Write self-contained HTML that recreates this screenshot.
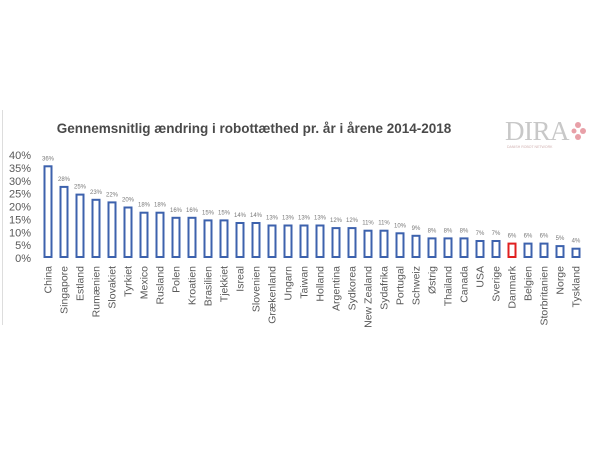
<!DOCTYPE html>
<html><head><meta charset="utf-8"><style>
body{margin:0;background:#fff}
svg{display:block;font-family:"Liberation Sans",sans-serif}
</style></head><body>
<svg width="600" height="450" viewBox="0 0 600 450" xmlns="http://www.w3.org/2000/svg">
<rect width="600" height="450" fill="#fff"/>
<line x1="2.5" y1="110" x2="2.5" y2="325" stroke="#ddd"/>
<text x="254" y="133" text-anchor="middle" font-size="13.5" font-weight="bold" fill="#4a4a4a">Gennemsnitlig ændring i robottæthed pr. år i årene 2014-2018</text>
<text x="505" y="140" font-family="Liberation Serif,serif" font-size="27" fill="#c8c8c8" letter-spacing="-0.5">DIRA</text>
<text x="507" y="148" font-size="3.5" fill="#d0b0b0">DANISH ROBOT NETWORK</text>
<g fill="#e8a0a8"><circle cx="578" cy="125" r="3"/><circle cx="583" cy="131" r="3"/><circle cx="578" cy="137" r="3"/><circle cx="574" cy="131" r="2.5"/></g>
<g font-size="11" fill="#595959" text-anchor="end">
<text x="31" y="262">0%</text><text x="31" y="249.1">5%</text><text x="31" y="236.3">10%</text><text x="31" y="223.4">15%</text><text x="31" y="210.5">20%</text><text x="31" y="197.6">25%</text><text x="31" y="184.8">30%</text><text x="31" y="171.9">35%</text><text x="31" y="159">40%</text>
</g>
<g fill="#fff" stroke="#3d62ad" stroke-width="2">
<rect x="44.5" y="166.3" width="7" height="90.7"/>
<rect x="60.5" y="186.9" width="7" height="70.1"/>
<rect x="76.5" y="194.6" width="7" height="62.4"/>
<rect x="92.5" y="199.8" width="7" height="57.2"/>
<rect x="108.5" y="202.4" width="7" height="54.6"/>
<rect x="124.5" y="207.5" width="7" height="49.5"/>
<rect x="140.5" y="212.7" width="7" height="44.3"/>
<rect x="156.5" y="212.7" width="7" height="44.3"/>
<rect x="172.5" y="217.8" width="7" height="39.2"/>
<rect x="188.5" y="217.8" width="7" height="39.2"/>
<rect x="204.5" y="220.4" width="7" height="36.6"/>
<rect x="220.5" y="220.4" width="7" height="36.6"/>
<rect x="236.5" y="223" width="7" height="34"/>
<rect x="252.5" y="223" width="7" height="34"/>
<rect x="268.5" y="225.5" width="7" height="31.5"/>
<rect x="284.5" y="225.5" width="7" height="31.5"/>
<rect x="300.5" y="225.5" width="7" height="31.5"/>
<rect x="316.5" y="225.5" width="7" height="31.5"/>
<rect x="332.5" y="228.1" width="7" height="28.9"/>
<rect x="348.5" y="228.1" width="7" height="28.9"/>
<rect x="364.5" y="230.7" width="7" height="26.3"/>
<rect x="380.5" y="230.7" width="7" height="26.3"/>
<rect x="396.5" y="233.3" width="7" height="23.7"/>
<rect x="412.5" y="235.8" width="7" height="21.2"/>
<rect x="428.5" y="238.4" width="7" height="18.6"/>
<rect x="444.5" y="238.4" width="7" height="18.6"/>
<rect x="460.5" y="238.4" width="7" height="18.6"/>
<rect x="476.5" y="241" width="7" height="16"/>
<rect x="492.5" y="241" width="7" height="16"/>
<rect x="508.5" y="243.6" width="7" height="13.4" stroke="#e02020"/>
<rect x="524.5" y="243.6" width="7" height="13.4"/>
<rect x="540.5" y="243.6" width="7" height="13.4"/>
<rect x="556.5" y="246.1" width="7" height="10.9"/>
<rect x="572.5" y="248.7" width="7" height="8.3"/>
</g>
<g font-size="6" fill="#777" text-anchor="middle">
<text x="48" y="160.3">36%</text><text x="64" y="180.9">28%</text><text x="80" y="188.6">25%</text><text x="96" y="193.8">23%</text><text x="112" y="196.4">22%</text><text x="128" y="201.5">20%</text><text x="144" y="206.7">18%</text><text x="160" y="206.7">18%</text><text x="176" y="211.8">16%</text><text x="192" y="211.8">16%</text><text x="208" y="214.4">15%</text><text x="224" y="214.4">15%</text><text x="240" y="217">14%</text><text x="256" y="217">14%</text><text x="272" y="219.5">13%</text><text x="288" y="219.5">13%</text><text x="304" y="219.5">13%</text><text x="320" y="219.5">13%</text><text x="336" y="222.1">12%</text><text x="352" y="222.1">12%</text><text x="368" y="224.7">11%</text><text x="384" y="224.7">11%</text><text x="400" y="227.3">10%</text><text x="416" y="229.8">9%</text><text x="432" y="232.4">8%</text><text x="448" y="232.4">8%</text><text x="464" y="232.4">8%</text><text x="480" y="235">7%</text><text x="496" y="235">7%</text><text x="512" y="237.6">6%</text><text x="528" y="237.6">6%</text><text x="544" y="237.6">6%</text><text x="560" y="240.1">5%</text><text x="576" y="242.7">4%</text>
</g>
<g font-size="10.5" fill="#595959" text-anchor="end">
<text transform="translate(51.5,266) rotate(-90)">China</text>
<text transform="translate(67.5,266) rotate(-90)">Singapore</text>
<text transform="translate(83.5,266) rotate(-90)">Estland</text>
<text transform="translate(99.5,266) rotate(-90)">Rumænien</text>
<text transform="translate(115.5,266) rotate(-90)">Slovakiet</text>
<text transform="translate(131.5,266) rotate(-90)">Tyrkiet</text>
<text transform="translate(147.5,266) rotate(-90)">Mexico</text>
<text transform="translate(163.5,266) rotate(-90)">Rusland</text>
<text transform="translate(179.5,266) rotate(-90)">Polen</text>
<text transform="translate(195.5,266) rotate(-90)">Kroatien</text>
<text transform="translate(211.5,266) rotate(-90)">Brasilien</text>
<text transform="translate(227.5,266) rotate(-90)">Tjekkiet</text>
<text transform="translate(243.5,266) rotate(-90)">Isreal</text>
<text transform="translate(259.5,266) rotate(-90)">Slovenien</text>
<text transform="translate(275.5,266) rotate(-90)">Grækenland</text>
<text transform="translate(291.5,266) rotate(-90)">Ungarn</text>
<text transform="translate(307.5,266) rotate(-90)">Taiwan</text>
<text transform="translate(323.5,266) rotate(-90)">Holland</text>
<text transform="translate(339.5,266) rotate(-90)">Argentina</text>
<text transform="translate(355.5,266) rotate(-90)">Sydkorea</text>
<text transform="translate(371.5,266) rotate(-90)">New Zealand</text>
<text transform="translate(387.5,266) rotate(-90)">Sydafrika</text>
<text transform="translate(403.5,266) rotate(-90)">Portugal</text>
<text transform="translate(419.5,266) rotate(-90)">Schweiz</text>
<text transform="translate(435.5,266) rotate(-90)">Østrig</text>
<text transform="translate(451.5,266) rotate(-90)">Thailand</text>
<text transform="translate(467.5,266) rotate(-90)">Canada</text>
<text transform="translate(483.5,266) rotate(-90)">USA</text>
<text transform="translate(499.5,266) rotate(-90)">Sverige</text>
<text transform="translate(515.5,266) rotate(-90)">Danmark</text>
<text transform="translate(531.5,266) rotate(-90)">Belgien</text>
<text transform="translate(547.5,266) rotate(-90)">Storbritanien</text>
<text transform="translate(563.5,266) rotate(-90)">Norge</text>
<text transform="translate(579.5,266) rotate(-90)">Tyskland</text>
</g>
</svg>
</body></html>
